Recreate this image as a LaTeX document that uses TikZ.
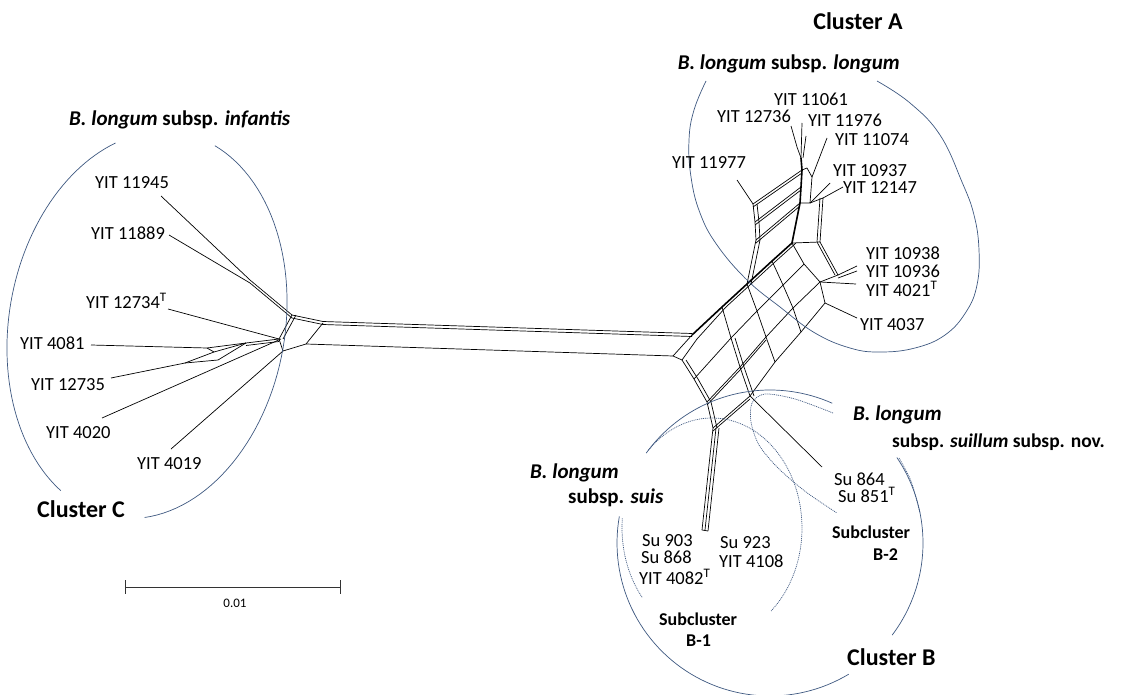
\documentclass[tikz,border=0pt]{standalone}
\usepackage{fontspec}
\setmainfont{Carlito}
\definecolor{ellblue}{RGB}{62,88,128}

\begin{document}
\begin{tikzpicture}[x=1pt,y=-1pt,
	net/.style={line width=0.7pt, line join=round},
	spine/.style={line width=1.6pt, line join=round},
	ell/.style={color=ellblue, line width=0.7pt},
	ellsub/.style={color=ellblue, line width=0.7pt, dash pattern=on 1pt off 0.9pt},
	lab/.style={font=\fontsize{18.5}{20}\selectfont, inner sep=0pt},
	ttl/.style={font=\fontsize{21}{23}\selectfont\bfseries, inner sep=0pt},
	clus/.style={font=\fontsize{24}{26}\selectfont\bfseries, inner sep=0pt},
	subcl/.style={font=\fontsize{18}{20}\selectfont\bfseries, inner sep=0pt}]
		\useasboundingbox (0,0) rectangle (1127,695);
		
		% left hub (infantis)
		\coordinate (c11945) at (161,196);
		\coordinate (c11889) at (169,235);
		\coordinate (c12734) at (168,309);
		\coordinate (c4081) at (91,345);
		\coordinate (c12735) at (111,378);
		\coordinate (c4020) at (102,418);
		\coordinate (c4019) at (171,449);
		\coordinate (hj) at (250,280);
		\coordinate (h1) at (292,315);
		\coordinate (h2) at (323,323);
		\coordinate (h3) at (306,344);
		\coordinate (h4) at (279,339);
		\coordinate (h5) at (283,351);
		\coordinate (s1) at (207,348);
		\coordinate (s2) at (214,352);
		\coordinate (s3) at (246,343);
		\coordinate (s4) at (185,363);
		\coordinate (s5) at (218,360);
		
		\draw[net] (c11945) -- (hj) -- (h1);
		\draw[net] (c11889) -- ([yshift=-3pt]hj) -- ([yshift=-3pt]h1);
		\draw[net] (h1) -- ([yshift=1.5pt]h2);
		\draw[net] ([yshift=-3pt]h1) -- ([yshift=-1.5pt]h2);
		\draw[net] (h1) -- (h4);
		\draw[net] ([xshift=4pt]h1) -- ([xshift=4pt]h4);
		\draw[net] (h2) -- (h3) -- (h5) -- (h4);
		\draw[net] (c12734) -- (h4);
		\draw[net] (c4081) -- (s1) -- (s3);
		\draw[net] (s1) -- (s2) -- (s3);
		\draw[net] (c12735) -- (s4) -- (s2);
		\draw[net] (s4) -- (s5) -- (s3);
		\draw[net] (s3) -- (h4);
		\draw[net] ([yshift=-2.5pt]s3) -- ([yshift=-2.5pt]h4);
		\draw[net] (c4020) -- ([xshift=2pt]h4);
		\draw[net] (c4019) -- (h5);
		
		% right network
		\coordinate (ra) at (673,356);
		\coordinate (rc) at (682,360);
		\coordinate (rd) at (697,339);
		\foreach \n/\px/\py in {p00/692/335, p10/722/307, p20/747/284, p30/772/261, p40/792/243,
			p01/694/379, p11/731/338, p21/757/311, p31/783/285, p41/804/264,
			p02/707/402, p12/740/367, p22/766/337, p32/793/308, p42/820/282,
			p03/713/428, p13/750/396, p23/775/362, p33/801/332, p43/825/303}
			\coordinate (\n) at (\px,\py);
		
		% long split edges
		\draw[net] ([yshift=1.5pt]h2) -- ([yshift=1.5pt]p00);
		\draw[net] ([yshift=-1.5pt]h2) -- ([yshift=-1.5pt]p00);
		\draw[net] (h3) -- (ra);
		\draw[net] (ra) -- (p00);
		\draw[net] (ra) -- (rc) -- (rd);
		
		\draw[spine] (p00) -- (p10) -- (p20) -- (p30) -- (p40);
		\draw[net] (rd) -- ([xshift=4pt]p10) -- ([xshift=4pt]p20) -- ([xshift=4pt]p30) -- ([xshift=4pt]p40);
		\draw[net] (rc) -- (p01) -- (p02) -- (p03);
		\draw[net] ([xshift=4pt]rc) -- ([xshift=4pt]p01) -- ([xshift=4pt]p02) -- ([xshift=4pt]p03);
		\foreach \r in {1,2,3}
			\draw[net] (p0\r) -- (p1\r) -- (p2\r) -- (p3\r) -- (p4\r);
		\foreach \c in {1,...,4}
			\draw[net] (p\c0) -- (p\c1) -- (p\c2) -- (p\c3);
		\draw[net] ([yshift=-3pt]p03) -- ([yshift=-3pt]p13);
		\draw[net] ([xshift=4pt]p11) -- ([xshift=4pt]p12) -- ([xshift=4pt]p13);
		\draw[net] ([yshift=-3pt]p02) -- ([yshift=-3pt]p12) -- ([yshift=-3pt]p22);
		
		% stem of subcluster B-1
		\coordinate (sb1) at (702,530);
		\coordinate (sb2) at (708,531);
		\draw[net] (p03) -- (sb1) -- (sb2);
		\draw[net] ([xshift=3pt]p03) -- ([xshift=3pt]sb1);
		\draw[net] ([xshift=6pt]p03) -- (sb2);
		
		% subcluster B-2
		\coordinate (c864) at (822,467);
		\draw[net] (p13) -- (c864);
		
		% cluster A
		\coordinate (a1) at (800,203);
		\coordinate (am) at (801,187);
		\coordinate (a2) at (802,170);
		\coordinate (a3) at (801,158);
		\coordinate (k1) at (797,147);
		\coordinate (b1) at (807,168);
		\coordinate (b2) at (812,177);
		\coordinate (b3) at (810,203);
		\coordinate (q1) at (823,198);
		\coordinate (q2) at (820,242);
		\coordinate (d1) at (753,204);
		\coordinate (dm) at (755,222);
		\coordinate (d2) at (756,240);
		\coordinate (f1) at (838,275);
		\coordinate (c11061) at (802,123);
		\coordinate (c12736) at (791,126);
		\coordinate (c11976) at (806,136);
		\coordinate (c11074) at (827,138);
		\coordinate (c11977) at (737,180);
		\coordinate (c10937) at (830,183);
		\coordinate (c12147) at (843,187);
		\coordinate (c10938) at (857,266);
		\coordinate (c10936) at (857,271);
		\coordinate (c4021) at (856,284);
		\coordinate (c4037) at (857,318);
		
		\draw[spine] (p40) -- (a1) -- (am) -- (a2) -- (a3);
		\draw[net] (a3) -- (c11061);
		\draw[net] (a3) -- (k1) -- (c12736);
		\draw[net] ([xshift=2pt]a3) -- (c11976);
		\draw[net] (a2) -- (b1) -- (b2) -- (b3) -- (a1);
		\draw[net] (b2) -- (c11074);
		\draw[net] (b3) -- (q1) -- (q2) -- (p40);
		\draw[net] ([xshift=-3pt]q1) -- ([xshift=-3pt]q2);
		\draw[net] (b3) -- (c10937);
		\draw[net] (q1) -- (c12147);
		\draw[net] (c11977) -- (d1) -- (dm) -- (d2) -- (p20);
		\draw[net] ([xshift=4pt]d1) -- ([xshift=4pt]dm) -- ([xshift=4pt]d2) -- ([xshift=4pt]p20);
		\foreach \l/\r in {d1/a2, dm/am, d2/a1} {
			\draw[net] (\l) -- (\r);
			\draw[net] ([yshift=-3pt]\l) -- ([yshift=-3pt]\r);
		}
		\draw[net] (q2) -- (f1) -- (p42);
		\draw[net] ([xshift=-3pt]q2) -- ([xshift=-3pt]f1);
		\draw[net] (f1) -- (c10938);
		\draw[net] ([yshift=-3pt]f1) -- (c10936);
		\draw[net] (p42) -- (c4021);
		\draw[net] (p43) -- (c4037);
		
		% cluster outlines
		\begin{scope}[shift={(147,325)}, rotate=-10]
			\draw[ell] plot[domain=-75:77, samples=60] ({138*cos(\x)},{195*sin(\x)});
			\draw[ell] plot[domain=114:243, samples=60] ({138*cos(\x)},{195*sin(\x)});
		\end{scope}
		\draw[ell] plot[smooth, tension=0.7] coordinates {(706,81) (694,110) (689,140) (691,177)
			(700,213) (717,245) (747,280) (780,307) (815,333) (850,348) (880,352) (915,348)
			(945,335) (966,312) (977,285) (979,250) (974,215) (962,182) (940,135) (910,103) (877,81)};
		\draw[ell] plot[domain=216:294, samples=40] ({770+153*cos(\x)},{543+153*sin(\x)});
		\draw[ell] plot[domain=-34:37, samples=40] ({770+153*cos(\x)},{543+153*sin(\x)});
		\draw[ell] plot[domain=59:190, samples=60] ({770+153*cos(\x)},{543+153*sin(\x)});
		\draw[ellsub] plot[domain=-135:49, samples=60] ({712+90*cos(\x)},{528+110*sin(\x)});
		\draw[ellsub] plot[domain=141:185, samples=20] ({712+90*cos(\x)},{528+110*sin(\x)});
		\draw[ellsub] plot[smooth] coordinates {(833,413) (795,399) (765,394) (752,403) (751,422)
			(759,445) (778,468) (806,492) (837,513)};
		\draw[ellsub] plot[smooth] coordinates {(899,458) (911,481) (920,513)};
		
		% scale bar
		\coordinate (sbl) at (125,587);
		\coordinate (sbr) at (340,587);
		\draw[line width=1pt, color=black!80] (sbl) -- (sbr);
		\draw[line width=1pt, color=black!80] ([yshift=7pt]sbl) -- ([yshift=-7pt]sbl);
		\draw[line width=1pt, color=black!80] ([yshift=7pt]sbr) -- ([yshift=-7pt]sbr);
		\node[font=\fontsize{13}{14}\selectfont, inner sep=0pt, anchor=base] (sbtxt) at (235,607) {0.01};
		
		% labels, cluster C
		\node[ttl, anchor=base west] (tinf) at (69,126) {\textit{B. longum} subsp. \textit{infantis}};
		\node[lab, anchor=base west] (l11945) at (95,189) {YIT 11945};
		\node[lab, anchor=base west] (l11889) at (91,240) {YIT 11889};
		\node[lab, anchor=base west] (l12734) at (86,308) {YIT 12734\textsuperscript{T}};
		\node[lab, anchor=base west] (l4081) at (20,349) {YIT 4081};
		\node[lab, anchor=base west] (l12735) at (31,390) {YIT 12735};
		\node[lab, anchor=base west] (l4020) at (46,438) {YIT 4020};
		\node[lab, anchor=base west] (l4019) at (137,469) {YIT 4019};
		\node[clus, anchor=base west] (clC) at (37,517) {Cluster C};
		
		% labels, cluster A
		\node[clus, anchor=base] (clA) at (858,30) {Cluster A};
		\node[ttl, anchor=base east] (tlong) at (900,70) {\textit{B. longum} subsp. \textit{longum}};
		\node[lab, anchor=base west] (l11061) at (774,106) {YIT 11061};
		\node[lab, anchor=base west] (l12736) at (717,123) {YIT 12736};
		\node[lab, anchor=base west] (l11976) at (808,127) {YIT 11976};
		\node[lab, anchor=base west] (l11074) at (835,146) {YIT 11074};
		\node[lab, anchor=base west] (l11977) at (672,169) {YIT 11977};
		\node[lab, anchor=base west] (l10937) at (833,177) {YIT 10937};
		\node[lab, anchor=base west] (l12147) at (843,194) {YIT 12147};
		\node[lab, anchor=base west] (l10938) at (866,259) {YIT 10938};
		\node[lab, anchor=base west] (l10936) at (866,277) {YIT 10936};
		\node[lab, anchor=base west] (l4021) at (866,296) {YIT 4021\textsuperscript{T}};
		\node[lab, anchor=base west] (l4037) at (860,330) {YIT 4037};
		
		% labels, cluster B
		\node[ttl, anchor=base west] (tsuil) at (853,420) {\textit{B. longum}};
		\node[ttl, anchor=base west, font=\fontsize{19.5}{21}\selectfont\bfseries] (tsuilb) at (892,447) {subsp. \textit{suillum} subsp. nov.};
		\node[lab, anchor=base west] (l864) at (834,485) {Su 864};
		\node[lab, anchor=base west] (l851) at (838,502) {Su 851\textsuperscript{T}};
		\node[subcl, anchor=base west] (subB2) at (832,538) {Subcluster};
		\node[subcl, anchor=base west] (subB2n) at (873,560) {B-2};
		\node[ttl, anchor=base west] (tsuis) at (530,478) {\textit{B. longum}};
		\node[ttl, anchor=base west] (tsuisb) at (568,503) {subsp. \textit{suis}};
		\node[lab, anchor=base west] (l903) at (642,546) {Su 903};
		\node[lab, anchor=base west] (l868) at (641,563) {Su 868};
		\node[lab, anchor=base west] (l4082) at (639,584) {YIT 4082\textsuperscript{T}};
		\node[lab, anchor=base west] (l923) at (720,548) {Su 923};
		\node[lab, anchor=base west] (l4108) at (719,567) {YIT 4108};
		\node[subcl, anchor=base west] (subB1) at (659,625) {Subcluster};
		\node[subcl, anchor=base west] (subB1n) at (686,646) {B-1};
		\node[clus, anchor=base west] (clB) at (847,665) {Cluster B};
	\end{tikzpicture}
\end{document}
